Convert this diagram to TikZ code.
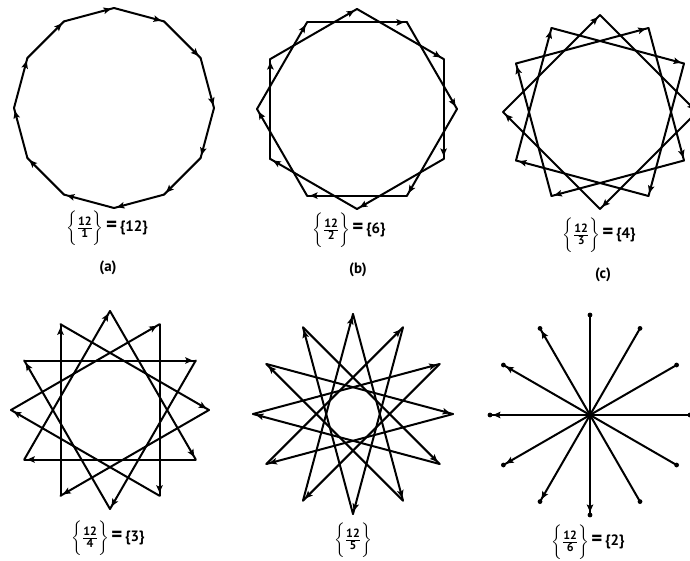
\documentclass[tikz,border=0pt]{standalone}
\usepackage{amsmath}
\usepackage{fontspec}
\setmainfont{PT Sans}
\usetikzlibrary{decorations.markings,arrows.meta}
\newcommand{\fracdig}[1]{\text{\fontsize{12}{12}\selectfont\bfseries #1}}
\newcommand{\stelabel}[2]{$\biggl\{\tfrac{\fracdig{#1}}{\fracdig{#2}}\biggr\}$}
\newcommand{\eqsign}{\,{\fontsize{21}{21}\selectfont\bfseries =}\,}
\begin{document}
\begin{tikzpicture}[x=1pt,y=-1pt,
  edge/.style={line width=2pt, line cap=round, line join=round, postaction={decorate},
    decoration={markings, mark=at position -3pt with {\arrow{Stealth[length=7.5pt,width=6.5pt,inset=1.5pt]}}}},
  lab/.style={font=\fontsize{15}{17}\selectfont\boldmath\bfseries, inner sep=1pt},
  sub/.style={font=\fontsize{15}{17}\selectfont\bfseries, inner sep=1pt}
]
\useasboundingbox (0,0) rectangle (690,560);
\clip (0,0) rectangle (690,560);
\foreach \k in {0,...,11}{
  \coordinate (a\k) at ({114+100*cos(90-30*\k)},{108-100*sin(90-30*\k)});
  \coordinate (b\k) at ({357+100*cos(90-30*\k)},{109-100*sin(90-30*\k)});
  \coordinate (c\k) at ({600+97*cos(90-30*\k)},{112-97*sin(90-30*\k)});
  \coordinate (d\k) at ({110+99*cos(90-30*\k)},{410-99*sin(90-30*\k)});
  \coordinate (e\k) at ({353+100*cos(90-30*\k)},{414-100*sin(90-30*\k)});
  \coordinate (f\k) at ({590+100*cos(90-30*\k)},{415-100*sin(90-30*\k)});
}
% (a) {12/1}
\foreach \k in {0,...,11}{
  \pgfmathtruncatemacro\n{mod(\k+1,12)}
  \draw[edge] (a\k) -- (a\n);
}
% (b) {12/2}
\foreach \k in {0,...,11}{
  \pgfmathtruncatemacro\n{mod(\k+2,12)}
  \draw[edge] (b\k) -- (b\n);
}
% (c) {12/3}
\foreach \k in {0,...,11}{
  \pgfmathtruncatemacro\n{mod(\k+3,12)}
  \draw[edge] (c\k) -- (c\n);
}
% (d) {12/4}
\foreach \k in {0,...,11}{
  \pgfmathtruncatemacro\n{mod(\k+4,12)}
  \draw[edge] (d\k) -- (d\n);
}
% (e) {12/5}
\foreach \k in {0,...,11}{
  \pgfmathtruncatemacro\n{mod(\k+5,12)}
  \draw[edge] (e\k) -- (e\n);
}
% (f) {12/6}
\foreach \k in {0,...,5}{
  \pgfmathtruncatemacro\n{\k+6}
  \draw[edge] (f\k) -- (f\n);
}
\foreach \k in {0,...,11}{
  \fill (f\k) circle (2.4pt);
}
% labels
\node[lab] (la) at (107,228) {\stelabel{12}{1}\eqsign\{12\}};
\node[sub] (ta) at (108,268) {(a)};
\node[lab] (lb) at (349,230) {\stelabel{12}{2}\eqsign\{6\}};
\node[sub] (tb) at (358,270) {(b)};
\node[lab] (lc) at (599,235) {\stelabel{12}{3}\eqsign\{4\}};
\node[sub] (tc) at (603,275) {(c)};
\node[lab] (ld) at (108,538) {\stelabel{12}{4}\eqsign\{3\}};
\node[lab] (le) at (353,540) {\stelabel{12}{5}};
\node[lab] (lf) at (588,542) {\stelabel{12}{6}\eqsign\{2\}};
\end{tikzpicture}
\end{document}
